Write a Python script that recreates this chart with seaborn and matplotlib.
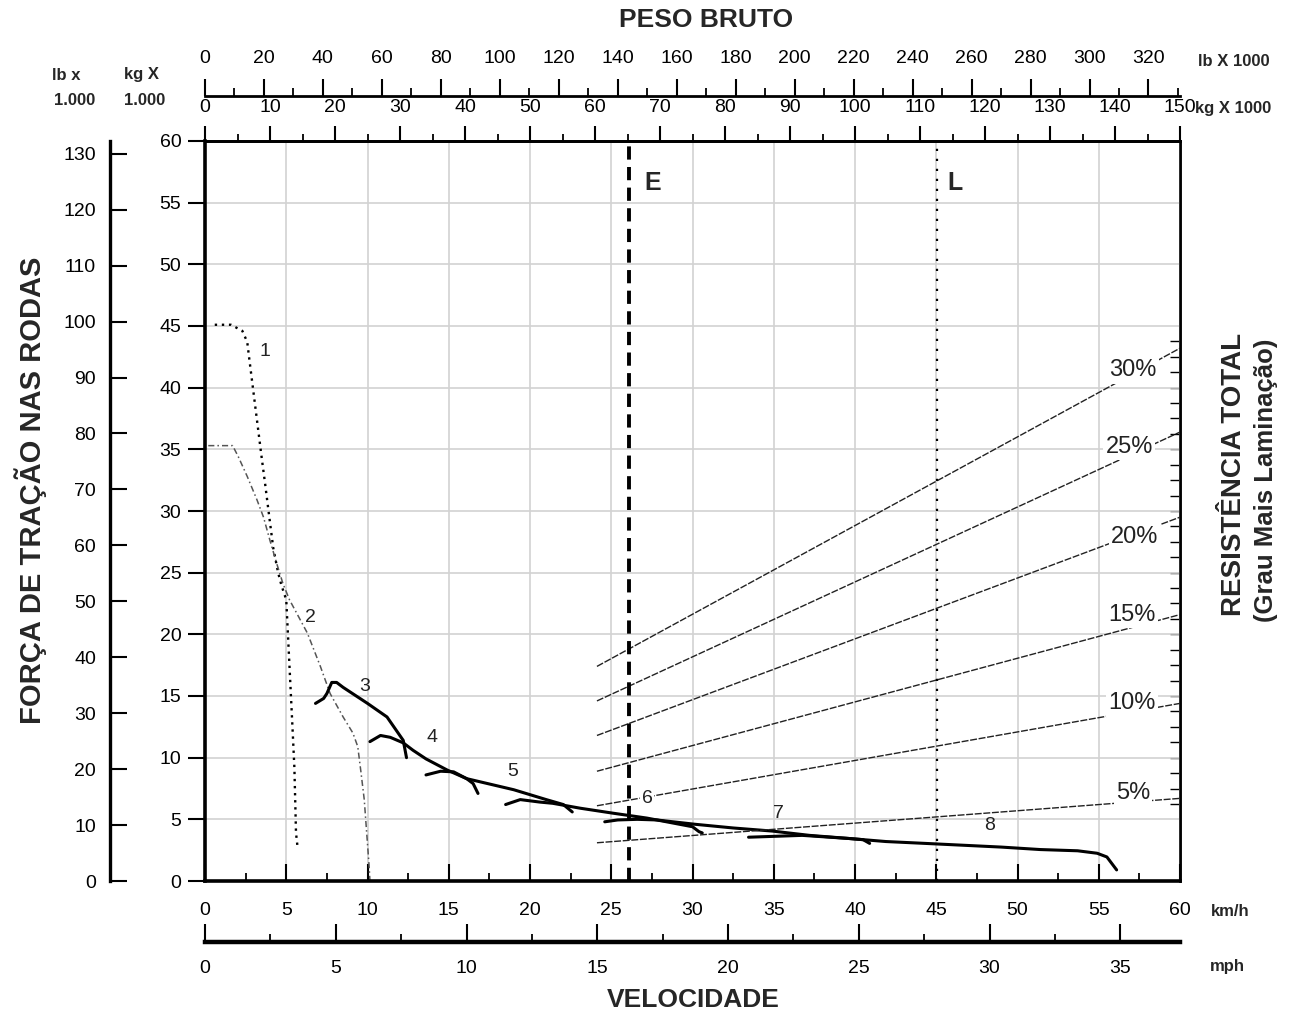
import numpy as np
import matplotlib
matplotlib.use('Agg')
import matplotlib.pyplot as plt
from matplotlib.ticker import MultipleLocator, FixedLocator
import seaborn as sns

sns.set_theme(style='white')
plt.rcParams['font.family'] = ['Liberation Sans', 'DejaVu Sans']

# rimpull curves per gear: speed (km/h) vs force (kg x 1000)
m1_kmh = [0.6, 1.6, 2.3, 2.6, 2.7, 2.9, 3.1, 3.3, 3.5, 3.7, 3.9, 4.2, 4.5, 4.7, 5.0, 5.1, 5.2, 5.3, 5.4, 5.5, 5.55, 5.6, 5.7]
m1_f = [45.1, 45.1, 44.6, 43.7, 42.6, 40.5, 38.4, 36.3, 34.2, 32.2, 30.1, 27.0, 25.0, 24.0, 22.8, 20.1, 17.4, 14.7, 12.0, 9.2, 6.6, 3.9, 2.7]
m2_kmh = [0.2, 1.7, 2.05, 2.6, 3.2, 3.6, 4.0, 4.4, 4.8, 5.2, 6.3, 7.1, 7.7, 8.5, 9.1, 9.4, 9.6, 9.8, 9.95, 10.1, 10.15]
m2_f = [35.3, 35.3, 34.4, 32.8, 30.9, 29.5, 27.6, 25.8, 24.1, 22.8, 20.1, 17.4, 15.2, 13.3, 12.0, 10.9, 8.8, 6.6, 3.9, 1.2, 0.0]
m3_kmh = [6.8, 7.3, 7.5, 7.8, 8.1, 8.5, 10.0, 11.2, 12.2, 12.4]
m3_f = [14.4, 14.8, 15.2, 16.1, 16.1, 15.7, 14.4, 13.3, 11.4, 10.0]
m4_kmh = [10.15, 10.8, 11.4, 12.2, 12.8, 13.6, 14.9, 16.1, 16.5, 16.8]
m4_f = [11.3, 11.8, 11.65, 11.2, 10.6, 9.9, 9.0, 8.3, 7.9, 7.1]
m5_kmh = [13.6, 14.5, 15.3, 16.1, 19.0, 21.0, 22.05, 22.6]
m5_f = [8.6, 8.9, 8.85, 8.3, 7.4, 6.6, 6.2, 5.6]
m6_kmh = [18.5, 19.4, 20.6, 21.4, 23.1, 25.1, 27.2, 29.2, 30.0, 30.4, 30.6]
m6_f = [6.2, 6.6, 6.4, 6.3, 5.9, 5.5, 5.1, 4.6, 4.4, 4.0, 3.9]
m7_kmh = [24.6, 25.4, 26.6, 27.8, 30.15, 32.5, 34.9, 37.2, 39.6, 40.5, 40.9]
m7_f = [4.8, 4.95, 5.0, 4.95, 4.6, 4.3, 4.05, 3.7, 3.45, 3.35, 3.05]
m8_kmh = [33.45, 36.75, 39.6, 41.9, 44.3, 46.65, 49.0, 51.4, 53.7, 54.9, 55.5, 56.1]
m8_f = [3.55, 3.7, 3.45, 3.2, 3.05, 2.9, 2.75, 2.55, 2.45, 2.25, 1.95, 0.9]

gear_labels = ['1', '2', '3', '4', '5', '6', '7', '8']
gear_label_kmh = [3.7, 6.5, 9.85, 13.95, 18.95, 27.2, 35.3, 48.3]
gear_label_f = [42.9, 21.4, 15.8, 11.6, 8.9, 6.7, 5.5, 4.5]

# total resistance lines (weight kg x 1000 vs force kg x 1000)
grades = ['5%', '10%', '15%', '20%', '25%', '30%']
grade_w = [60.3, 150.0]
grade_f_start = [3.1, 6.1, 8.9, 11.8, 14.6, 17.4]
grade_f_end = [6.7, 14.4, 21.6, 29.5, 36.4, 43.2]
grade_label_w = [142.8, 142.6, 142.6, 143.0, 142.2, 142.8]
grade_label_f = [7.1, 14.4, 21.6, 27.9, 35.2, 41.4]

# empty / loaded weights
peso_E = 65.2
peso_L = 112.6

# secondary scale ticks
lb_top_ticks = list(range(0, 321, 20))
lb_left_ticks = list(range(0, 131, 10))
mph_ticks = [0, 5, 10, 15, 20, 25, 30, 35]

W, H = 1299, 1014


def fx(px):
    return px / W


def fy(py):
    return 1 - py / H


def kg2lb(k):
    return k * 2.20462


def lb2kg(l):
    return l / 2.20462


fig = plt.figure(figsize=(12.99, 10.14), dpi=100)
ax = fig.add_axes([fx(205), fy(881), fx(1180) - fx(205), fy(141) - fy(881)])
ax_top = ax.twiny()

solid = dict(color='black', lw=2.2)
curves = [(m3_kmh, m3_f), (m4_kmh, m4_f), (m5_kmh, m5_f),
          (m6_kmh, m6_f), (m7_kmh, m7_f), (m8_kmh, m8_f)]
sns.lineplot(x=m1_kmh, y=m1_f, ax=ax, sort=False, estimator=None,
             color='black', lw=1.7, linestyle=(0, (1, 2.0)))
sns.lineplot(x=m2_kmh, y=m2_f, ax=ax, sort=False, estimator=None,
             color='#555555', lw=1.1, linestyle=(0, (4, 2, 1, 2)))
for xs, ys in curves:
    sns.lineplot(x=xs, y=ys, ax=ax, sort=False, estimator=None, **solid)

for f0, f1 in zip(grade_f_start, grade_f_end):
    sns.lineplot(x=grade_w, y=[f0, f1], ax=ax_top, sort=False, estimator=None,
                 color='#222222', lw=1.0, linestyle=(0, (5, 1.2)))
for s, w, f in zip(grades, grade_label_w, grade_label_f):
    ax_top.text(w, f, s, fontsize=17, ha='center', va='center', color='#222222',
                bbox=dict(facecolor='white', edgecolor='none', pad=1.5))

ax_top.axvline(peso_E, color='black', lw=2.8, linestyle=(0, (3.4, 1.9)))
ax_top.axvline(peso_L, color='black', lw=1.6, linestyle=(0, (1, 3.5)))
ax_top.text(peso_E + 3.6, 56.6, 'E', fontsize=18, fontweight='bold', ha='center', va='center')
ax_top.text(peso_L + 2.8, 56.6, 'L', fontsize=18, fontweight='bold', ha='center', va='center')

for s, x, y in zip(gear_labels, gear_label_kmh, gear_label_f):
    bb = dict(facecolor='white', edgecolor='none', pad=1) if s == '6' else None
    ax_top.text(x, y, s, transform=ax.transData, fontsize=14, ha='center',
                va='center', color='#222222', bbox=bb)

ax.set_xlim(0, 60)
ax.set_ylim(0, 60)
ax_top.set_xlim(0, 150)
ax.set_xlabel('')
ax.set_ylabel('')
ax_top.set_xlabel('')
ax_top.set_ylabel('')

ax.grid(True, which='major', color='#d2d2d2', lw=1.2)
ax.set_axisbelow(True)

ax.xaxis.set_major_locator(MultipleLocator(5))
ax.xaxis.set_minor_locator(MultipleLocator(2.5))
ax.yaxis.set_major_locator(MultipleLocator(5))
ax.tick_params(axis='x', which='major', direction='in', length=12, width=1.5,
               labelsize=14, pad=15, bottom=True, top=False, colors='black')
ax.tick_params(axis='x', which='minor', direction='in', length=6, width=1.3,
               bottom=True, top=False, colors='black')
ax.tick_params(axis='y', which='major', direction='out', length=12, width=1.5,
               labelsize=14, pad=5, left=True, right=False, colors='black')
for side, lw in [('left', 2.6), ('bottom', 2.6), ('top', 2.0), ('right', 1.8)]:
    ax.spines[side].set_linewidth(lw)
    ax.spines[side].set_color('black')

ax_top.xaxis.set_major_locator(MultipleLocator(10))
ax_top.xaxis.set_minor_locator(MultipleLocator(5))
ax_top.tick_params(axis='x', which='major', direction='out', length=11, width=1.5,
                   labelsize=14, pad=7, top=True, bottom=False, colors='black')
ax_top.tick_params(axis='x', which='minor', direction='out', length=5, width=1.3,
                   top=True, bottom=False, colors='black')
for side in ['left', 'right', 'bottom']:
    ax_top.spines[side].set_visible(False)
ax_top.spines['top'].set_linewidth(2.0)
ax_top.spines['top'].set_color('black')

# pound scale above the kg scale
lb_top = ax_top.secondary_xaxis(1 + 45 / 740, functions=(kg2lb, lb2kg))
lb_top.xaxis.set_major_locator(FixedLocator(lb_top_ticks))
lb_top.xaxis.set_minor_locator(FixedLocator([t + 10 for t in lb_top_ticks]))
lb_top.tick_params(which='major', direction='out', length=12, width=1.5, labelsize=14,
                   pad=9, colors='black')
lb_top.tick_params(which='minor', direction='out', length=6, width=1.3, colors='black')
for sp in lb_top.spines.values():
    sp.set_linewidth(2.0)
    sp.set_color('black')

# mph scale under the km/h scale
mph = ax.secondary_xaxis(-61 / 740, functions=(lambda v: v / 1.609344, lambda m: m * 1.609344))
mph.xaxis.set_major_locator(FixedLocator(mph_ticks))
mph.xaxis.set_minor_locator(FixedLocator([t + 2.5 for t in mph_ticks]))
mph.tick_params(which='major', direction='in', length=13, width=1.5, labelsize=14,
                pad=13, colors='black')
mph.tick_params(which='minor', direction='in', length=6, width=1.3, colors='black')
for sp in mph.spines.values():
    sp.set_linewidth(3.2)
    sp.set_color('black')

# pound scale left of the kg force scale
lb_left = ax.secondary_yaxis(-95 / 975, functions=(kg2lb, lb2kg))
lb_left.yaxis.set_major_locator(FixedLocator(lb_left_ticks))
lb_left.tick_params(which='major', direction='in', length=12, width=1.5, labelsize=14,
                    pad=10, colors='black')
for sp in lb_left.spines.values():
    sp.set_linewidth(2.4)
    sp.set_color('black')

# small grade ticks on the right border
rt = ax.secondary_yaxis('right')
rt.yaxis.set_major_locator(FixedLocator(np.arange(6.25, 44, 1.25)))
rt.tick_params(direction='in', length=7, width=1.0, labelright=False, right=True, colors='black')
for sp in rt.spines.values():
    sp.set_linewidth(1.8)
    sp.set_color('black')

fig.text(fx(706), fy(20), 'PESO BRUTO', fontsize=19, fontweight='bold', ha='center', va='center')
fig.text(fx(693), fy(1000), 'VELOCIDADE', fontsize=19, fontweight='bold', ha='center', va='center')
fig.text(fx(31), fy(490), 'FORÇA DE TRAÇÃO NAS RODAS', fontsize=21, fontweight='bold',
         rotation=90, ha='center', va='center')
fig.text(fx(1234), fy(474), 'RESISTÊNCIA TOTAL', fontsize=20, fontweight='bold',
         rotation=90, ha='center', va='center')
fig.text(fx(1266), fy(480), '(Grau Mais Laminação)', fontsize=18.5, fontweight='bold',
         rotation=90, ha='center', va='center')

fig.text(fx(66), fy(75), 'lb x', fontsize=12, fontweight='bold', ha='center', va='center')
fig.text(fx(75), fy(100), '1.000', fontsize=12, fontweight='bold', ha='center', va='center')
fig.text(fx(141), fy(75), 'kg X', fontsize=12, fontweight='bold', ha='center', va='center')
fig.text(fx(145), fy(100), '1.000', fontsize=12, fontweight='bold', ha='center', va='center')
fig.text(fx(1198), fy(61), 'lb X 1000', fontsize=12, fontweight='bold', ha='left', va='center')
fig.text(fx(1195), fy(108), 'kg X 1000', fontsize=12, fontweight='bold', ha='left', va='center')
fig.text(fx(1211), fy(912), 'km/h', fontsize=12, fontweight='bold', ha='left', va='center')
fig.text(fx(1210), fy(967), 'mph', fontsize=12, fontweight='bold', ha='left', va='center')

fig.savefig('out.png', dpi=100)
